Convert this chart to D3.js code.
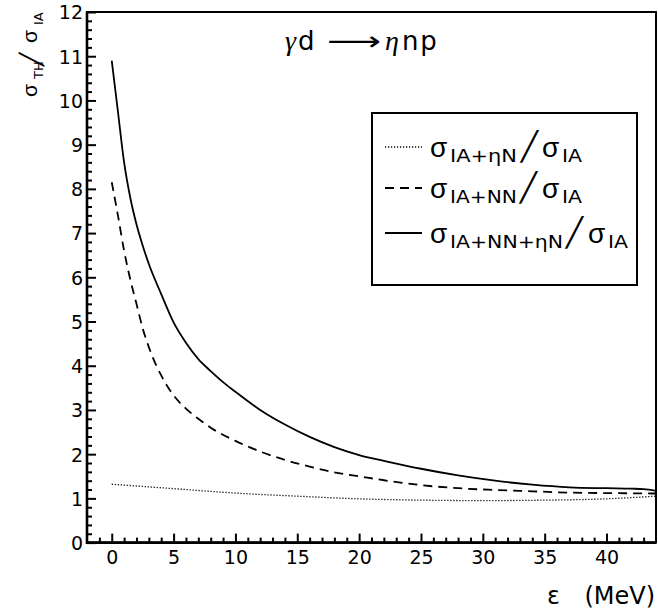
<!DOCTYPE html>
<html>
<head>
<meta charset="utf-8">
<script src="https://cdn.jsdelivr.net/npm/d3@7"></script>
<style>
  html, body { margin: 0; padding: 0; background: #fff; }
  svg { display: block; }
  text { font-family: "DejaVu Sans", "Liberation Sans", sans-serif; fill: #000; }
</style>
</head>
<body>
<svg id="chart" width="658" height="609"></svg>
<script>
// ---------- data ----------
const energySolid = [0, 0.5, 1, 1.5, 2, 2.5, 3, 4, 5, 6, 7, 8, 9, 10, 12, 14, 16, 18, 20, 22, 25, 28, 31, 34, 37, 40, 42, 43, 44];
const ratioSolid  = [10.9, 9.75, 8.6, 7.8, 7.2, 6.72, 6.3, 5.62, 4.98, 4.52, 4.15, 3.88, 3.63, 3.41, 3.0, 2.67, 2.39, 2.16, 1.98, 1.85, 1.67, 1.52, 1.4, 1.31, 1.25, 1.23, 1.22, 1.21, 1.17];

const energyDashed = [0, 0.5, 1, 1.5, 2, 2.5, 3, 4, 5, 6, 7, 8, 10, 12, 14, 16, 18, 20, 22, 25, 28, 31, 34, 37, 40, 44];
const ratioDashed  = [8.15, 7.4, 6.6, 5.95, 5.4, 4.85, 4.42, 3.78, 3.33, 3.03, 2.8, 2.6, 2.3, 2.06, 1.87, 1.72, 1.59, 1.5, 1.41, 1.3, 1.23, 1.19, 1.16, 1.13, 1.12, 1.11];

const energyDotted = [0, 5, 10, 15, 20, 25, 30, 35, 40, 44];
const ratioDotted  = [1.32, 1.22, 1.12, 1.05, 0.99, 0.96, 0.95, 0.96, 0.99, 1.05];

const xMajorTicks = [0, 5, 10, 15, 20, 25, 30, 35, 40];
const yMajorTicks = [0, 1, 2, 3, 4, 5, 6, 7, 8, 9, 10, 11, 12];
const xDomain = [-2, 44];
const yDomain = [0, 12];

// ---------- layout ----------
const svg = d3.select("#chart");
const L = 87, R = 656, T = 12, B = 542.6;
const x = d3.scaleLinear().domain(xDomain).range([L, R]);
const y = d3.scaleLinear().domain(yDomain).range([B, T]);

const xMinor = d3.range(-1, 44, 1).filter(v => v % 5 !== 0);
const yMinor = d3.range(0, 12.0001, 0.2).filter(v => Math.abs(v - Math.round(v)) > 1e-6);

function styleAxis(g) {
  g.select(".domain").remove();
  g.selectAll(".tick line").attr("stroke", "#000").attr("stroke-width", 2);
}

// y minor + major
svg.append("g").attr("transform", `translate(${L},0)`)
  .call(d3.axisLeft(y).tickValues(yMinor).tickSize(-5).tickFormat(""))
  .call(styleAxis);
const gy = svg.append("g").attr("transform", `translate(${L},0)`)
  .call(d3.axisLeft(y).tickValues(yMajorTicks).tickSizeInner(-9).tickSizeOuter(0).tickFormat(d3.format("d")))
  .call(styleAxis);
gy.selectAll(".tick text")
  .attr("x", -4).attr("dy", "0.36em")
  .style("font-size", "19px")
  .attr("text-anchor", "end");

// x minor + major
svg.append("g").attr("transform", `translate(0,${B})`)
  .call(d3.axisBottom(x).tickValues(xMinor).tickSize(-5).tickFormat(""))
  .call(styleAxis);
const gx = svg.append("g").attr("transform", `translate(0,${B})`)
  .call(d3.axisBottom(x).tickValues(xMajorTicks).tickSizeInner(-9).tickSizeOuter(0).tickFormat(d3.format("d")))
  .call(styleAxis);
gx.selectAll(".tick text")
  .attr("y", 8).attr("dy", "0.71em")
  .style("font-size", "19px")
  .attr("text-anchor", "middle");

// frame
svg.append("rect").attr("x", L).attr("y", T).attr("width", R - L).attr("height", B - T)
  .attr("fill", "none").attr("stroke", "#000").attr("stroke-width", 2);
svg.append("path").attr("d", `M${L},${T}V${B}H${R}`).attr("fill", "none").attr("stroke", "#000").attr("stroke-width", 2.6);

// ---------- curves ----------
const line = d3.line().x(d => x(d[0])).y(d => y(d[1])).curve(d3.curveMonotoneX);
svg.append("defs").append("clipPath").attr("id", "clip")
  .append("rect").attr("x", L).attr("y", T).attr("width", R - L).attr("height", B - T);
const plot = svg.append("g").attr("clip-path", "url(#clip)");

plot.append("path").datum(d3.zip(energyDotted, ratioDotted)).attr("d", line)
  .attr("fill", "none").attr("stroke", "#000").attr("stroke-width", 1.3).attr("stroke-dasharray", "1.2,1.8");
plot.append("path").datum(d3.zip(energyDashed, ratioDashed)).attr("d", line)
  .attr("fill", "none").attr("stroke", "#000").attr("stroke-width", 1.8).attr("stroke-dasharray", "9,6");
plot.append("path").datum(d3.zip(energySolid, ratioSolid)).attr("d", line)
  .attr("fill", "none").attr("stroke", "#000").attr("stroke-width", 1.8);

// helpers for text pieces
function piece(parent, txt, px, py, size, len) {
  const t = parent.append("text").attr("x", px).attr("y", py).style("font-size", size + "px").text(txt);
  if (len) t.attr("textLength", len).attr("lengthAdjust", "spacingAndGlyphs");
  return t;
}
function sigma(parent, px, py, size) {
  return piece(parent, "σ", px, py, size).style("font-family", "'Liberation Sans', sans-serif");
}
function slash(parent, px, py, size) {
  return parent.append("text").attr("x", px).attr("y", py)
    .style("font-size", size + "px").style("font-family", "'DejaVu Sans Mono', monospace").text("╱");
}

// ---------- title ----------
const title = svg.append("text").attr("x", 285).attr("y", 50).style("font-size", "26px");
title.append("tspan").style("font-family", "'Liberation Serif', serif").style("font-style", "italic").style("font-size", "28px").text("γ");
title.append("tspan").attr("dx", 2).text("d");
piece(svg, "⟶", 327, 50, 26, 54);
const title2 = svg.append("text").attr("x", 385).attr("y", 50).style("font-size", "26px");
title2.append("tspan").style("font-family", "'Liberation Serif', serif").style("font-style", "italic").style("font-size", "28px").text("η");
title2.append("tspan").attr("dx", 3).style("letter-spacing", "2px").text("np");

// ---------- y axis title (rotated) ----------
const yl = svg.append("g").attr("transform", "rotate(-90)");
sigma(yl, -97, 37, 21);
piece(yl, "TH", -79, 43, 13);
slash(yl, -66, 39, 22);
sigma(yl, -43, 37, 21);
piece(yl, "IA", -25, 43, 13);

// ---------- x axis title ----------
piece(svg, "ε", 547, 604, 24);
piece(svg, "(MeV)", 655, 604, 24).attr("text-anchor", "end");

// ---------- legend ----------
const legendRows = [
  { sub: "IA+ηN",    dash: "1.2,1.8", w: 1.3, ly: 147, base: 157, subLen: 67,  slashX: 521, sig2: 542, ia: 562 },
  { sub: "IA+NN",    dash: "9,6",     w: 1.8, ly: 188, base: 198, subLen: 67,  slashX: 520, sig2: 542, ia: 562 },
  { sub: "IA+NN+ηN", dash: null,      w: 1.8, ly: 233, base: 243, subLen: 113, slashX: 566, sig2: 588, ia: 608 }
];
const lg = svg.append("g");
lg.append("rect").attr("x", 372).attr("y", 113).attr("width", 265).attr("height", 172)
  .attr("fill", "#fff").attr("stroke", "#000").attr("stroke-width", 2);
legendRows.forEach(r => {
  const ln = lg.append("line").attr("x1", 385).attr("x2", 422).attr("y1", r.ly).attr("y2", r.ly)
    .attr("stroke", "#000").attr("stroke-width", r.w);
  if (r.dash) ln.attr("stroke-dasharray", r.dash);
  sigma(lg, 430, r.base, 28);
  piece(lg, r.sub, 450, r.base + 5, 17, r.subLen);
  slash(lg, r.slashX, r.base - 1, 28);
  sigma(lg, r.sig2, r.base, 28);
  piece(lg, "IA", r.ia, r.base + 5, 17, 20);
});
</script>
</body>
</html>
